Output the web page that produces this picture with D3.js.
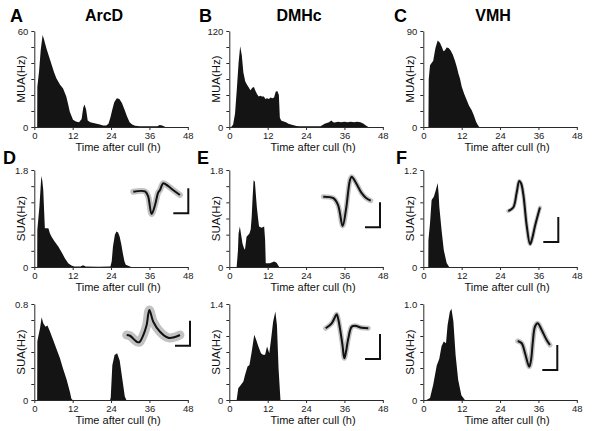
<!DOCTYPE html>
<html><head><meta charset="utf-8">
<script src="https://cdn.jsdelivr.net/npm/d3@7"></script>
<style>
body{margin:0;background:#fff}
svg{display:block}
text{font-family:"Liberation Sans",Arial,Helvetica,sans-serif}
</style>
</head><body>
<svg id="chart" width="600" height="431"></svg>
<script>
// ---------------- DATA ----------------
const panelLetters = ["A","B","C","D","E","F","","",""];
const regionTitles = ["ArcD","DMHc","VMH"];
const rowYLabels = ["MUA(Hz)","SUA(Hz)","SUA(Hz)"];
const xTitle = "Time after cull (h)";
const xTicks = [0,12,24,36,48];
const yMax = [60,120,90,1.8,1.8,1.2,0.8,1.4,1.0];
const yTopLabels = ["60","120","90","1.8","1.8","1.2","0.8","1.4","1.0"];

// A: ArcD MUA
const hoursA  = [0.9,0.95,1.5,2.0,2.6,3.0,3.8,4.6,5.4,6.2,6.9,8.0,9.0,10.0,10.6,11.1,12.1,13,14,14.8,15.3,15.7,16.2,16.7,17.5,18.5,19.5,20.5,21.5,22.5,23.2,23.8,24.4,25.0,25.8,26.6,27.4,28.2,29,29.8,30.6,31.5,33,35,38.5,39.2,40,40.5,41];
const valuesA = [0,25,35,48,57.5,55,49,44,39,34,30.5,26.5,24,19,14,9.5,4.5,3.5,3,5,12,14,11,4,3,2.5,2,1.5,1,1,2,6,11,15.5,18,17.5,15,11,6.5,3,1.5,0.8,0.5,0.5,0.5,1.2,1.0,0.4,0];
// B: DMHc MUA
const hoursB  = [0.6,1.2,1.8,2.4,2.9,3.4,3.9,4.4,5.0,5.5,6.0,6.6,7.2,7.7,8.2,8.7,9.2,9.7,10.2,10.8,11.3,11.8,12.4,12.9,13.5,14.0,14.5,15.0,15.5,15.8,16.2,17,17.7,18.5,19.8,21,22,26,28.5,29.2,29.8,30.5,31.2,31.9,32.5,33,34,35,36,37,38,39,40,41,42,42.7,43.5];
const valuesB = [0,3,17,50,80,101,90,68,57,53,50,46,49,50,45,41,38,39,38,38,35,36,35,37,36,37,44,45,40,12,8,7,6,4,2.5,1.2,1,1,1,2.5,4,5,6,8,6,5.5,6.5,6,6.5,6,6.5,6,6.5,6,4,2,0];
// C: VMH MUA
const hoursC  = [1.6,1.7,2.1,3.1,3.8,4.5,5.2,5.8,6.3,6.8,7.3,7.9,8.5,9.2,9.9,10.5,11,11.5,12,12.8,13.6,14.3,15.1,15.8,16.5,17,17.5];
const valuesC = [0,45,58,62,74,81,79,75,71,72,74.5,74,72,68,62,56,50,45,38,31,25,20,16,11,5,2,0];
// D: ArcD SUA unit 1
const hoursD  = [0.9,0.95,1.6,2.2,2.5,2.8,3.1,3.3,4.4,4.9,5.4,6.4,7.5,8.5,9.6,10.6,11.6,12.5,14.5,15,15.5,16,20,23.8,24.2,24.6,25.2,25.7,26.2,26.7,27.2,27.7,28.2,28.6,30.3];
const valuesD = [0,0.69,1.12,1.69,1.6,1.43,1.0,0.72,0.72,0.62,0.56,0.47,0.38,0.28,0.16,0.07,0.03,0.01,0.01,0.03,0.03,0.01,0.005,0.01,0.1,0.38,0.6,0.66,0.64,0.56,0.42,0.25,0.1,0.04,0];
// E: DMHc SUA unit 1
const hoursE  = [2.3,2.7,2.9,3.3,3.7,4.1,4.6,4.9,5.4,6.3,6.7,7.0,7.3,7.6,8.0,8.3,8.6,9.0,9.3,10.1,10.9,11.2,11.4,12.7,14.0,14.8,15.6];
const valuesE = [0,0.3,0.62,0.75,0.6,0.44,0.35,0.32,0.56,0.62,0.7,0.93,1.3,1.61,1.58,1.35,1.12,0.9,0.75,0.73,0.75,0.5,0.07,0.07,0.1,0.08,0];
// F: VMH SUA unit 1
const hoursF  = [1.55,1.6,2.1,2.6,3.3,3.9,4.5,4.8,5.0,5.7,6.4,7.3,8.1];
const valuesF = [0,0.33,0.54,0.83,0.87,0.95,1.04,0.9,0.75,0.46,0.21,0.05,0];
// G: ArcD SUA unit 2
const hoursG  = [0.9,0.95,1.8,2.3,2.8,3.5,4.1,4.9,5.9,7,8,9,10.1,11.1,11.6,12,23.7,23.9,24.4,25.1,25.9,26.7,27.5,28.3,28.8];
const valuesG = [0,0.49,0.6,0.69,0.64,0.61,0.62,0.57,0.5,0.42,0.35,0.26,0.17,0.07,0.01,0,0,0.02,0.29,0.375,0.39,0.33,0.18,0.03,0];
// H: DMHc SUA unit 2
const hoursH  = [2.3,2.8,3.6,4.4,4.9,5.7,6.3,7,7.8,8.4,9.1,9.9,10.5,11.2,11.8,12.5,13.1,13.7,14.4,14.9,15.4,16];
const valuesH = [0,0.17,0.22,0.27,0.36,0.49,0.51,0.7,0.95,0.88,0.78,0.68,0.66,0.66,0.78,0.68,0.9,1.14,1.29,1.09,0.46,0];
// I: VMH SUA unit 2
const hoursI  = [1,2.1,3.1,4.2,5,5.7,6.4,7.1,7.6,8.3,8.8,9.4,10.1,10.9,11.9,13];
const valuesI = [0,0.02,0.16,0.36,0.43,0.56,0.61,0.59,0.78,0.92,0.95,0.82,0.47,0.21,0.05,0];

// spike waveforms (time in ms, amplitude in scale-bar units)
const waveTimeD = [0,0.78,0.98,1.22,1.45,1.65,1.78,2.0,2.31,2.65,3.11];
const waveAmpD  = [0,0.01,-0.17,-0.89,-0.53,-0.05,0.07,0.34,0.23,0.07,-0.13];
const waveTimeE = [0,0.67,0.98,1.29,1.51,1.78,1.89,2.18,2.56,2.85,3.16];
const waveAmpE  = [0,-0.06,-0.33,-1.17,-0.53,0.67,0.8,0.55,0.14,-0.05,-0.16];
const waveTimeF = [0,0.33,0.56,0.73,0.85,1.0,1.23,1.45,1.58,1.78,2.11];
const waveAmpF  = [0,0.14,0.74,1.2,1.11,0.67,-0.6,-1.33,-1.13,-0.6,0.14];
const waveTimeG = [0,0.22,0.67,0.84,1.11,1.33,1.51,1.77,2.22,2.77,3.22,3.55];
const waveAmpG  = [0,-0.03,-0.27,-0.29,0,0.4,1.0,0.53,0.13,-0.11,-0.08,0];
const waveTimeH = [0,0.4,0.59,0.73,0.85,0.95,1.12,1.24,1.35,1.51,1.73,1.95,2.4,2.84];
const waveAmpH  = [0,0.2,0.41,0.56,0.33,0,-0.67,-1.2,-0.95,-0.4,0.06,0.1,0.02,0];
const waveTimeI = [0,0.27,0.49,0.77,0.89,1.0,1.15,1.33,1.6,1.93,2.15];
const waveAmpI  = [0,-0.09,-0.49,-1.03,-0.76,-0.09,0.57,0.71,0.44,0.04,-0.16];

// ---------------- LAYOUT ----------------
const svg = d3.select("#chart");
const colLeft = [34.3, 229.3, 423.3];
const rowTop = [31, 170, 304];
const rowBottom = [127, 267, 400];
const plotW = 153.5;
const letterPos = [[10,21.5],[199,21.5],[394,21.5],[3,164],[197,164],[396,164]];

const hours = [hoursA,hoursB,hoursC,hoursD,hoursE,hoursF,hoursG,hoursH,hoursI];
const values = [valuesA,valuesB,valuesC,valuesD,valuesE,valuesF,valuesG,valuesH,valuesI];
const waveTimes = [waveTimeD,waveTimeE,waveTimeF,waveTimeG,waveTimeH,waveTimeI];
const waveAmps = [waveAmpD,waveAmpE,waveAmpF,waveAmpG,waveAmpH,waveAmpI];
const insetOrigin = [[99,21.7],[94,26.7],[85,41],[92.4,31],[96.4,24.3],[94.4,37]];
const barCorner = [[154,43.3],[150.7,57.3],[135,72],[155.7,41.7],[150.7,55],[134,66]];
const grayWidth = [6,5,4,9,5,5];

for (let i = 0; i < 9; i++) {
  const r = Math.floor(i/3), c = i % 3;
  const L = colLeft[c], T = rowTop[r], B = rowBottom[r];
  const x = d3.scaleLinear().domain([0,48]).range([L, L+plotW]);
  const y = d3.scaleLinear().domain([0,yMax[i]]).range([B, T]);
  const pts = hours[i].map((h,k)=>({h, v: values[i][k]}));
  const g = svg.append("g");
  g.append("path").datum(pts)
    .attr("d", d3.area().x(d=>x(d.h)).y0(y(0)).y1(d=>y(d.v)))
    .attr("fill", "#141414");

  const ya = d3.axisLeft(y)
    .tickValues(d3.range(7).map(k => yMax[i]*k/6))
    .tickSize(3).tickSizeOuter(0).tickPadding(3)
    .tickFormat((d,k)=> k===0 ? "0" : (k===6 ? yTopLabels[i] : ""));
  const yg = g.append("g").attr("transform", `translate(${L},0)`).call(ya);
  const xa = d3.axisBottom(x).tickValues(xTicks).tickSize(3).tickSizeOuter(0).tickPadding(2);
  const xg = g.append("g").attr("transform", `translate(0,${B})`).call(xa);
  [yg, xg].forEach(a => {
    a.selectAll("path,line").attr("stroke","#2a2a2a").attr("stroke-width",1);
    a.selectAll("text").attr("font-size","9.5px").attr("fill","#222")
      .attr("font-family","'Liberation Sans',Arial,sans-serif");
  });
  yg.selectAll("text").filter(function(){ return this.textContent === ""; }).remove();

  g.append("text").attr("x", L+plotW/2+7).attr("y", B+24)
    .attr("text-anchor","middle").attr("font-size","11px").attr("fill","#111").text(xTitle);
  g.append("text").attr("transform", `translate(${L-9.5},${(T+B)/2}) rotate(-90)`)
    .attr("text-anchor","middle").attr("font-size","11.5px").attr("fill","#111").text(rowYLabels[r]);

  if (r === 0) {
    g.append("text").attr("x", L+plotW/2-7).attr("y", 20.5)
      .attr("text-anchor","middle").attr("font-size","16px").attr("font-weight","bold")
      .text(regionTitles[c]);
  }
  if (panelLetters[i]) {
    g.append("text").attr("x", letterPos[i][0]).attr("y", letterPos[i][1])
      .attr("font-size","18px").attr("font-weight","bold").text(panelLetters[i]);
  }

  if (r > 0) {
    const j = i - 3;
    const ox = L + insetOrigin[j][0], oy = T + insetOrigin[j][1];
    const wx = d3.scaleLinear().domain([0,1]).range([ox, ox+15]);
    const wy = d3.scaleLinear().domain([0,1]).range([oy, oy-25]);
    const wpts = waveTimes[j].map((t,k)=>[t, waveAmps[j][k]]);
    const line = d3.line().x(d=>wx(d[0])).y(d=>wy(d[1])).curve(d3.curveCatmullRom);
    g.append("path").attr("d", line(wpts)).attr("fill","none")
      .attr("stroke","#c2c2c2").attr("stroke-width", grayWidth[j])
      .attr("stroke-linejoin","round").attr("stroke-linecap","round");
    g.append("path").attr("d", line(wpts)).attr("fill","none")
      .attr("stroke","#111").attr("stroke-width", 2)
      .attr("stroke-linejoin","round");
    const cx = L + barCorner[j][0], cy = T + barCorner[j][1];
    g.append("path").attr("d", `M${cx},${cy-25}V${cy}H${cx-15}`)
      .attr("fill","none").attr("stroke","#111").attr("stroke-width",2);
  }
}
</script>
</body></html>
